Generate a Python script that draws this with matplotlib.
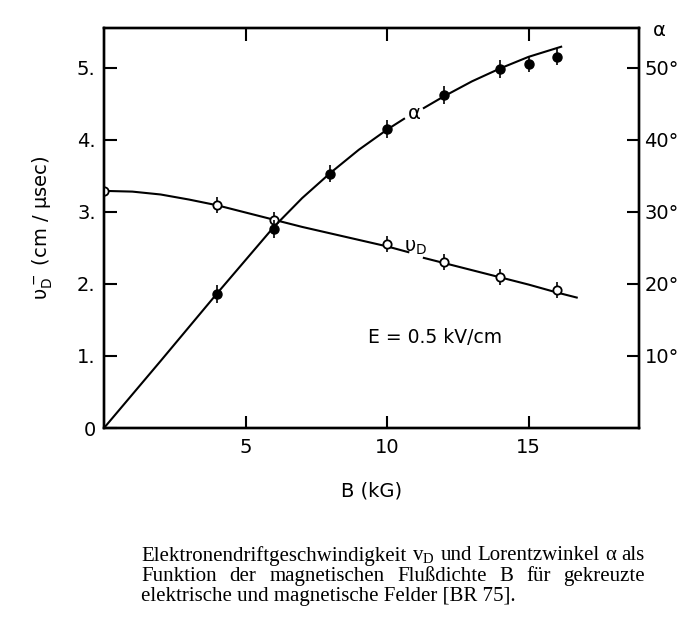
import matplotlib
matplotlib.use("Agg")
import matplotlib.pyplot as plt

# ── Values ───────────────────────────────────────────────────────────────────
# drift velocity v_D (open circles), cm/µs
VD_B   = [0, 4, 6, 10, 12, 14, 16]
VD_VAL = [3.29, 3.09, 2.89, 2.55, 2.30, 2.10, 1.91]
VD_ERR = [0.0, 0.11, 0.11, 0.11, 0.11, 0.11, 0.11]

# Lorentz angle alpha (filled circles), degrees
AL_B   = [4, 6, 8, 10, 12, 14, 15, 16]
AL_DEG = [18.6, 27.6, 35.3, 41.5, 46.2, 49.8, 50.5, 51.5]
AL_ERR = [1.2, 1.2, 1.2, 1.2, 1.2, 1.2, 1.1, 1.1]

# hand-drawn curves, broken where the curve labels sit
VD_CURVE_B1 = [0, 1, 2, 3, 4, 5, 6, 7, 8, 9, 10, 10.75]
VD_CURVE_V1 = [3.29, 3.28, 3.24, 3.17, 3.09, 2.99, 2.89, 2.79, 2.70, 2.61, 2.52, 2.44]
VD_CURVE_B2 = [11.3, 12, 13, 14, 15, 16, 16.7]
VD_CURVE_V2 = [2.36, 2.29, 2.19, 2.09, 1.99, 1.88, 1.81]

AL_CURVE_B1 = [0, 2, 4, 5, 6, 7, 8, 9, 10, 10.6]
AL_CURVE_D1 = [0, 9.3, 18.7, 23.3, 27.9, 31.9, 35.4, 38.6, 41.4, 42.9]
AL_CURVE_B2 = [11.3, 12, 13, 14, 15, 16.15]
AL_CURVE_D2 = [44.4, 46.0, 48.1, 49.9, 51.5, 52.9]

Y_TICKS  = [0, 1, 2, 3, 4, 5]
Y_LABELS = ["0", "1.", "2.", "3.", "4.", "5."]
A_TICKS  = [10, 20, 30, 40, 50]
A_LABELS = ["10°", "20°", "30°", "40°", "50°"]
X_TICKS  = [5, 10, 15]

CAPTION = [
    ["Elektronendriftgeschwindigkeit", r"v$_{\mathrm{D}}$", "und", "Lorentzwinkel", "α", "als"],
    ["Funktion", "der", "magnetischen", "Flußdichte", "B", "für", "gekreuzte"],
]
CAPTION_LAST = "elektrische und magnetische Felder [BR 75]."

# ── Style ────────────────────────────────────────────────────────────────────
plt.rcParams["font.family"] = ["DejaVu Sans"]
plt.rcParams["mathtext.fontset"] = "custom"
plt.rcParams["mathtext.rm"] = "Liberation Serif"
plt.rcParams["mathtext.sf"] = "DejaVu Sans"

W, H = 694, 628
fig = plt.figure(figsize=(W / 100, H / 100), dpi=100)
ax = fig.add_axes([104 / W, 1 - 428 / H, 535 / W, 400 / H])
ax2 = ax.twinx()

LW = 1.5
FS = 14

# curves
ax.plot(VD_CURVE_B1, VD_CURVE_V1, color="black", lw=LW)
ax.plot(VD_CURVE_B2, VD_CURVE_V2, color="black", lw=LW)
ax2.plot(AL_CURVE_B1, AL_CURVE_D1, color="black", lw=LW)
ax2.plot(AL_CURVE_B2, AL_CURVE_D2, color="black", lw=LW)

# data points
ax.errorbar(VD_B, VD_VAL, yerr=VD_ERR, fmt="o", ms=6, mfc="white", mec="black",
            mew=1.3, ecolor="black", elinewidth=1.2, capsize=0, zorder=5)
ax2.errorbar(AL_B, AL_DEG, yerr=AL_ERR, fmt="o", ms=6.5, mfc="black", mec="black",
             ecolor="black", elinewidth=1.2, capsize=0, zorder=5)

# axes
ax.set_xlim(0, 18.9)
ax.set_ylim(0, 5.55)
ax2.set_ylim(0, 55.5)

for a in (ax, ax2):
    for s in a.spines.values():
        s.set_linewidth(1.7)

ax.set_xticks(X_TICKS)
ax.set_xticklabels([str(v) for v in X_TICKS])
ax.set_yticks(Y_TICKS)
ax.set_yticklabels(Y_LABELS)
ax.tick_params(axis="x", direction="in", length=9, width=1.5, top=True,
               labelsize=FS, pad=7)
ax.tick_params(axis="y", direction="in", length=9, width=1.5, labelsize=FS, pad=6)

ax2.set_yticks(A_TICKS)
ax2.set_yticklabels(A_LABELS)
ax2.tick_params(axis="y", direction="in", length=9, width=1.5, labelsize=FS, pad=4)

ax.set_xlabel("B (kG)", fontsize=FS, labelpad=18)
ax.set_ylabel(r"$\mathsf{υ_D^-}$ (cm / μsec)", fontsize=FS, labelpad=16)

# in-plot labels
ax.text(10.95, 4.36, "α", fontsize=FS, ha="center", va="center")
ax.text(11.0, 2.50, r"$\mathsf{υ_D}$", fontsize=FS, ha="center", va="center")
ax.text(9.33, 1.25, "E = 0.5 kV/cm", fontsize=13.5, ha="left", va="center")
ax.text(1.026, 0.995, "α", fontsize=FS, ha="left", va="center",
        transform=ax.transAxes)

# ── Caption (justified like the book) ────────────────────────────────────────
CAP_FS = 15
X0, X1 = 141, 645
renderer = fig.canvas.get_renderer()
for row, words in enumerate(CAPTION):
    y = 1 - (556 + 20.5 * row) / H
    texts = [fig.text(0, y, w, fontsize=CAP_FS, family="Liberation Serif",
                      va="center") for w in words]
    widths = [t.get_window_extent(renderer).width for t in texts]
    gap = ((X1 - X0) - sum(widths)) / (len(words) - 1)
    x = X0
    for t, w in zip(texts, widths):
        t.set_x(x / W)
        x += w + gap
fig.text(X0 / W, 1 - (556 + 41) / H, CAPTION_LAST, fontsize=CAP_FS,
         family="Liberation Serif", va="center")

fig.savefig("out.png", dpi=100, facecolor="white")
